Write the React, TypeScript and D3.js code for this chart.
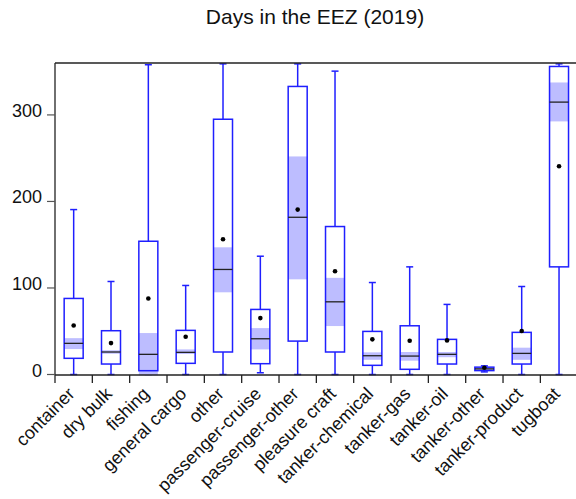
import React from "react";
import * as d3 from "d3";

const categories = ["container","dry bulk","fishing","general cargo","other","passenger-cruise","passenger-other","pleasure craft","tanker-chemical","tanker-gas","tanker-oil","tanker-other","tanker-product","tugboat"];
const whiskerLow = [0, 0, 0, 0, 0, 2, 0, 0, 0, 0, 0, 3, 0, 0];
const q1 = [18.7, 12.1, 4.4, 12.9, 26, 12.5, 38.6, 26, 10.6, 6, 12.1, 4.5, 12.1, 124.4];
const medians = [36, 26, 23.3, 25.6, 121.4, 41.3, 181.7, 84, 21.7, 21.3, 23.3, 6.5, 24.4, 314.8];
const q3 = [87.9, 50.6, 154, 51, 295, 75.2, 332.9, 171, 49.8, 56.3, 40.6, 8.5, 48.7, 356];
const whiskerHigh = [190.6, 107.5, 358, 102.9, 359, 136.7, 359, 350.6, 106.3, 124.4, 81, 10, 101.7, 359];
const means = [56.7, 36.3, 87.9, 43.6, 156.3, 65.2, 190.6, 119.4, 40.6, 39, 39.4, 7.8, 50.2, 240.6];
const ciLow = [29.4, 24, -1, 23.7, 95, 29, 110, 56, 17, 16, 20, 5, 17, 292.5];
const ciHigh = [42, 28, 47.9, 29, 147, 53.6, 252, 111.7, 25.6, 26, 26, 8, 31, 337.5];
const yTicks = [0, 100, 200, 300];
const title = "Days in the EEZ (2019)";

export default function App() {
  const W = 576, H = 499;
  const left = 55, top = 63, bottom = 375, right = 577.7;
  const x = d3.scaleBand<string>().domain(categories).range([left, right]).padding(0);
  const y = d3.scaleLinear().domain([0, 360]).range([374.5, top]);
  const bw = x.bandwidth();
  const boxW = 19;
  const capW = 7;
  const blue = "#1f1fff";
  const shade = "#bdbdff";
  const font = "'Liberation Sans', Arial, sans-serif";
  return (
    <svg width={W} height={H} style={{ position: "absolute", left: 0, top: 0, background: "#fff" }} fontFamily={font}>
      <text x={315} y={24} textAnchor="middle" fontSize={21} fill="#111">{title}</text>
      {categories.map((c, i) => {
        const cx = (x(c) as number) + bw / 2;
        return (
          <g key={c}>
            <line x1={cx} x2={cx} y1={y(whiskerHigh[i])} y2={y(q3[i])} stroke={blue} strokeWidth={1.5} />
            <line x1={cx} x2={cx} y1={y(q1[i])} y2={y(whiskerLow[i])} stroke={blue} strokeWidth={1.5} />
            <line x1={cx - capW / 2} x2={cx + capW / 2} y1={y(whiskerHigh[i])} y2={y(whiskerHigh[i])} stroke={blue} strokeWidth={1.5} />
            <line x1={cx - capW / 2} x2={cx + capW / 2} y1={y(whiskerLow[i])} y2={y(whiskerLow[i])} stroke={blue} strokeWidth={1.5} />
            <rect x={cx - boxW / 2} y={y(q3[i])} width={boxW} height={y(q1[i]) - y(q3[i])} fill="#fff" stroke="none" />
            <rect x={cx - boxW / 2} y={y(ciHigh[i])} width={boxW} height={y(ciLow[i]) - y(ciHigh[i])} fill={shade} />
            <rect x={cx - boxW / 2} y={y(q3[i])} width={boxW} height={y(q1[i]) - y(q3[i])} fill="none" stroke={blue} strokeWidth={1.5} />
            <line x1={cx - boxW / 2} x2={cx + boxW / 2} y1={y(medians[i])} y2={y(medians[i])} stroke="#222" strokeWidth={1.3} />
            <circle cx={cx} cy={y(means[i])} r={2.3} fill="#000" />
          </g>
        );
      })}
      <line x1={left} x2={left} y1={top} y2={bottom} stroke="#222" strokeWidth={1.3} />
      <line x1={left} x2={W} y1={top} y2={top} stroke="#222" strokeWidth={1.3} />
      <line x1={left} x2={W} y1={bottom} y2={bottom} stroke="#222" strokeWidth={1.3} />
      {yTicks.map((t) => (
        <g key={t}>
          <line x1={left - 8} x2={left} y1={y(t)} y2={y(t)} stroke="#555" strokeWidth={1.2} />
          <text x={42} y={y(t) + 2} textAnchor="end" fontSize={18} fill="#111">{t}</text>
        </g>
      ))}
      {categories.map((c) => (
        <line key={"t" + c} x1={x(c) as number} x2={x(c) as number} y1={bottom} y2={bottom + 8} stroke="#222" strokeWidth={1.3} />
      ))}
      {categories.map((c) => {
        const cx = (x(c) as number) + bw / 2;
        return (
          <text key={"l" + c} transform={`translate(${cx + 2},${bottom + 20}) rotate(-45)`} textAnchor="end" fontSize={18} fill="#111">{c}</text>
        );
      })}
    </svg>
  );
}
